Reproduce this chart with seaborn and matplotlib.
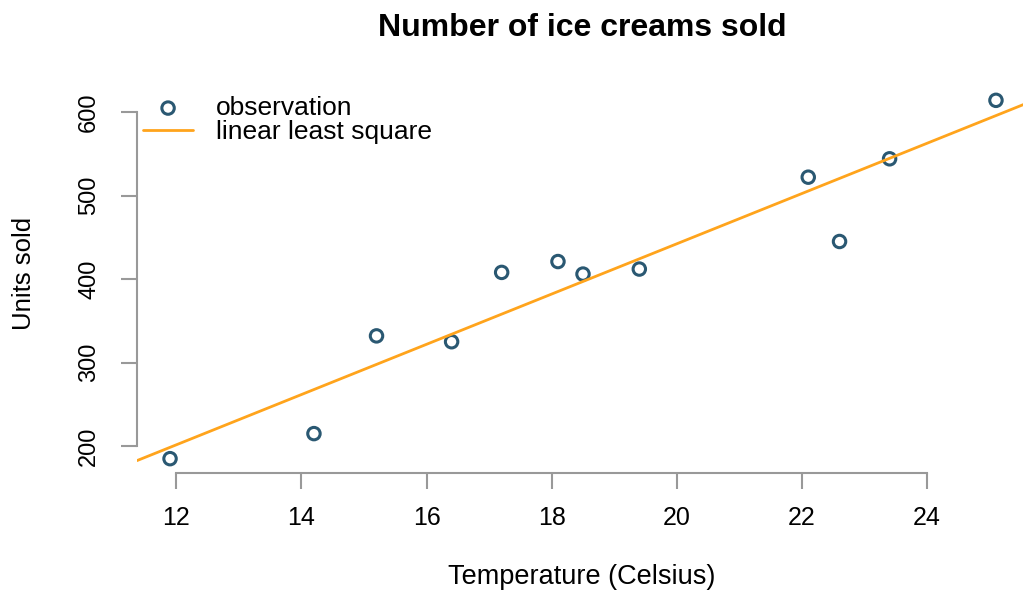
import matplotlib
matplotlib.use("Agg")
import matplotlib.pyplot as plt
import seaborn as sns
import numpy as np
import pandas as pd

# ice cream sales vs temperature
temperature = [14.2, 16.4, 11.9, 15.2, 18.5, 22.1, 19.4, 25.1, 23.4, 18.1, 22.6, 17.2]
units_sold = [215, 325, 185, 332, 406, 522, 412, 614, 544, 421, 445, 408]
x_ticks = [12, 14, 16, 18, 20, 22, 24]
y_ticks = [200, 300, 400, 500, 600]

df = pd.DataFrame({"temp": temperature, "sold": units_sold})

sns.set_style("white")
plt.rcParams["font.family"] = ["Liberation Sans", "DejaVu Sans"]
plt.rcParams["text.color"] = "black"

fig = plt.figure(figsize=(10.23, 5.90), dpi=100)
ax = fig.add_axes([137 / 1023, 117 / 590, 892 / 1023, 387 / 590])

sns.scatterplot(data=df, x="temp", y="sold", ax=ax, marker="o", s=80,
                facecolors="none", edgecolors="#2a5872", linewidth=2.2,
                label="observation", zorder=2)

# linear least square fit
slope, intercept = np.polyfit(df["temp"], df["sold"], 1)
ax.axline((0, intercept), slope=slope, color="#ffa41c", lw=2,
          label="linear least square", zorder=3)

# R style axis range (4% padding)
xpad = 0.04 * (df["temp"].max() - df["temp"].min())
ypad = 0.04 * (df["sold"].max() - df["sold"].min())
ax.set_xlim(df["temp"].min() - xpad, df["temp"].max() + xpad)
ax.set_ylim(df["sold"].min() - ypad, df["sold"].max() + ypad)

ax.set_xticks(x_ticks)
ax.set_yticks(y_ticks)
sns.despine(ax=ax)
for side in ["left", "bottom"]:
    ax.spines[side].set_color("#999999")
    ax.spines[side].set_linewidth(1.5)
ax.spines["left"].set_bounds(y_ticks[0], y_ticks[-1])
ax.spines["bottom"].set_bounds(x_ticks[0], x_ticks[-1])
ax.tick_params(bottom=True, left=True, length=11.5, width=1.5,
               color="#999999", labelcolor="black")
ax.tick_params(axis="x", labelsize=18, pad=12)
ax.tick_params(axis="y", labelsize=17, pad=15)
plt.setp(ax.get_yticklabels(), rotation=90, va="center")
ax.set_xlabel("")
ax.set_ylabel("")

fig.text(582 / 1023, 1 - 28 / 590, "Number of ice creams sold", ha="center",
         va="center", fontsize=23, weight="bold")
fig.text(582 / 1023, 1 - 577 / 590, "Temperature (Celsius)", ha="center",
         va="center", fontsize=19.5)
fig.text(24 / 1023, 1 - 273 / 590, "Units sold", ha="center", va="center",
         rotation=90, fontsize=18.5)

leg = ax.legend(loc="upper left", bbox_to_anchor=(143 / 1023, 1 - 96 / 590),
                bbox_transform=fig.transFigure, frameon=False, fontsize=19,
                borderpad=0, borderaxespad=0, handlelength=1.9,
                handletextpad=0.85, labelspacing=0)

fig.savefig("out.png", dpi=100)
